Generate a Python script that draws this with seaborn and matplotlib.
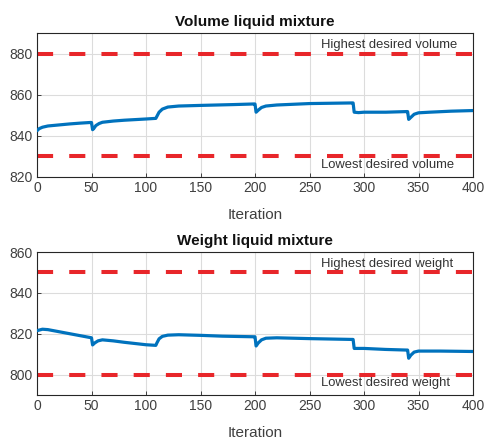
import matplotlib
matplotlib.use("Agg")
import matplotlib.pyplot as plt
import seaborn as sns
import pandas as pd

# ---- data ----
vol_x = [0, 2, 5, 10, 20, 30, 40, 49, 50, 51, 52, 54, 57, 60, 70, 80, 90, 100, 109,
         110, 112, 115, 120, 130, 150, 180, 199, 200, 201, 203, 206, 210, 220, 250,
         289, 290, 291, 295, 300, 320, 339, 340, 341, 343, 346, 350, 360, 380, 400]
vol_y = [842.5, 843.5, 844.2, 844.8, 845.3, 845.8, 846.2, 846.5, 846.5, 843.0, 843.5,
         845.0, 846.0, 846.6, 847.2, 847.6, 847.9, 848.2, 848.5,
         849.5, 851.5, 853.0, 854.0, 854.5, 854.8, 855.2, 855.5, 855.5, 851.5, 852.5,
         853.8, 854.5, 855.0, 855.7, 856.0, 856.0, 851.5, 851.3, 851.5, 851.5, 851.8,
         851.8, 848.0, 849.0, 850.5, 851.2, 851.5, 852.0, 852.3]

wt_x = [0, 5, 10, 20, 30, 40, 50, 51, 53, 56, 60, 70, 80, 90, 100, 109, 110, 112, 115,
        120, 130, 150, 170, 199, 200, 201, 203, 206, 210, 220, 250, 289, 290, 291,
        300, 320, 339, 340, 341, 343, 346, 350, 370, 400]
wt_y = [821.5, 822.2, 822.0, 821.0, 820.0, 819.0, 818.0, 814.5, 815.5, 816.5, 817.0,
        816.5, 815.8, 815.2, 814.6, 814.3, 815.5, 817.5, 818.7, 819.3, 819.5, 819.2,
        818.8, 818.5, 818.5, 814.0, 815.5, 817.0, 817.8, 818.0, 817.6, 817.2, 817.2,
        812.8, 812.8, 812.3, 812.0, 812.0, 808.0, 809.5, 811.0, 811.5, 811.5, 811.3]

vol_limits = [880, 830]
wt_limits = [850, 800]
vol_labels = ["Highest desired volume", "Lowest desired volume"]
wt_labels = ["Highest desired weight", "Lowest desired weight"]
titles = ["Volume liquid mixture", "Weight liquid mixture"]
xlabel = "Iteration"

sns.set_style("whitegrid")
plt.rcParams["font.family"] = ["Liberation Sans", "DejaVu Sans"]

fig = plt.figure(figsize=(4.84, 4.42), dpi=100)
W, H = 484, 442
ax1 = fig.add_axes([37 / W, 1 - 177 / H, 436 / W, 144 / H])
ax2 = fig.add_axes([37 / W, 1 - 395 / H, 436 / W, 143 / H])

blue = "#0072BD"
red = "#E8262A"

panels = [
    (ax1, vol_x, vol_y, vol_limits, vol_labels, titles[0], (820, 890), [820, 840, 860, 880]),
    (ax2, wt_x, wt_y, wt_limits, wt_labels, titles[1], (790, 860), [800, 820, 840, 860]),
]

for ax, xs, ys, lims, labs, title, ylim, yt in panels:
    df = pd.DataFrame({"x": xs, "y": ys})
    for lim in lims:
        ax.axhline(lim, color=red, lw=2.9, dashes=(4, 4), zorder=2)
    sns.lineplot(data=df, x="x", y="y", ax=ax, color=blue, lw=2.3, zorder=3)
    ax.set_xlim(0, 400)
    ax.set_ylim(*ylim)
    ax.set_xticks(range(0, 401, 50))
    ax.set_yticks(yt)
    ax.grid(True, color="#DCDCDC", lw=0.8)
    for s in ax.spines.values():
        s.set_visible(True)
        s.set_color("#262626")
        s.set_linewidth(0.8)
    ax.tick_params(direction="in", length=3, width=0.6, colors="#262626",
                   labelsize=10, labelcolor="#404040", pad=3)
    ax.tick_params(axis="both", which="both", top=False, right=False, bottom=True, left=True)
    ax.set_xlabel(xlabel, fontsize=11, color="#404040", labelpad=9)
    ax.set_ylabel("")
    ax.set_title(title, fontsize=11, fontweight="bold", color="#111111", pad=5)
    ax.text(261, lims[0] + 1.2, labs[0], fontsize=9.4, color="#333333", va="bottom", ha="left")
    ax.text(261, lims[1] - 1.2, labs[1], fontsize=9.4, color="#333333", va="top", ha="left")

fig.savefig("out.png", dpi=100, facecolor="white")
